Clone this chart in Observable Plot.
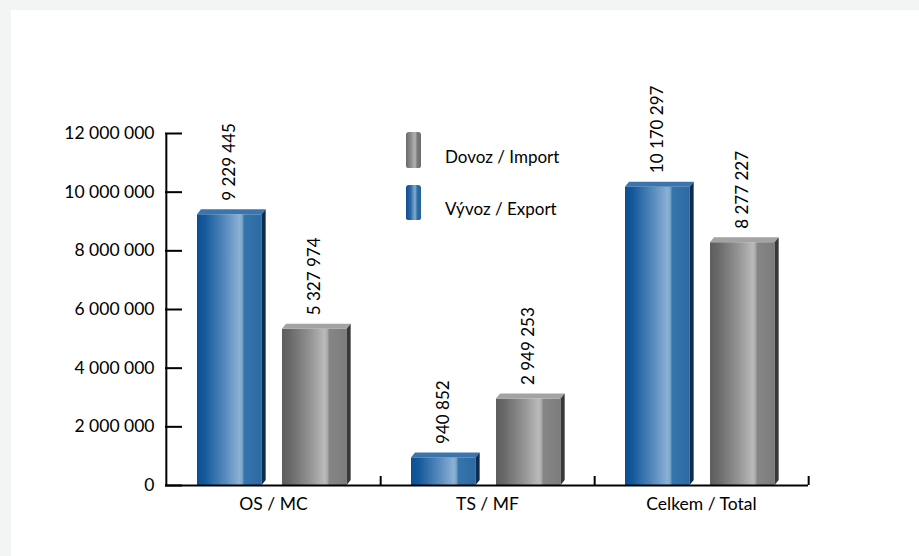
<!DOCTYPE html>
<html>
<head>
<meta charset="utf-8">
<script src="https://cdn.jsdelivr.net/npm/d3@7"></script>
<script src="https://cdn.jsdelivr.net/npm/@observablehq/plot@0.6"></script>
<style>
  html, body { margin: 0; padding: 0; }
  body { width: 919px; height: 556px; background: #f3f5f4; position: relative; overflow: hidden; font-family: Lato, "Open Sans", sans-serif; }
  #panel { position: absolute; left: 11px; top: 10px; width: 908px; height: 546px; background: #ffffff; }
  #panel svg { position: absolute; left: 0; top: 0; }
  .sw { position: absolute; width: 15px; border-radius: 3px 3px 2px 2px; }
  .lt { position: absolute; font-size: 17px; color: #000; line-height: 20px; white-space: nowrap; }
</style>
</head>
<body>
<div id="panel"></div>
<div class="sw" style="left:406px; top:132px; height:36px; background: linear-gradient(to right, #6a6a6a, #8a8a8a 30%, #b4b4b4 60%, #7a7a7a 75%, #6c6c6c);"></div>
<div class="lt" style="left:445px; top:147px;">Dovoz / Import</div>
<div class="sw" style="left:406px; top:185px; height:35px; background: linear-gradient(to right, #0b4f93, #2a66a3 30%, #86acd0 60%, #2f6da6 75%, #24609b);"></div>
<div class="lt" style="left:445px; top:199px;">Vývoz / Export</div>
<script>
// ---- data ----
const categories = ["OS / MC", "TS / MF", "Celkem / Total"];
const exportValues = [9229445, 940852, 10170297];   // Vývoz / Export
const importValues = [5327974, 2949253, 8277227];   // Dovoz / Import
const yTicks = [0, 2000000, 4000000, 6000000, 8000000, 10000000, 12000000];

const exportData = categories.map((c, i) => ({cat: c, value: exportValues[i]}));
const importData = categories.map((c, i) => ({cat: c, value: importValues[i]}));
const fmt = v => d3.format(",")(v).replace(/,/g, " ");

const W = 908, H = 546;
const mL = 154, mR = 111, mT = 123, mB = 71;
const bw = (W - mL - mR) / categories.length; // band width

const chart = Plot.plot({
  width: W, height: H,
  marginLeft: mL, marginRight: mR, marginTop: mT, marginBottom: mB,
  style: {fontFamily: "Lato, 'Open Sans', sans-serif", fontSize: "17.5px", color: "#000", background: "transparent"},
  x: {domain: categories, padding: 0, tickSize: 0, tickPadding: 12, label: null},
  y: {domain: [0, 12000000], ticks: yTicks, tickFormat: fmt, tickSize: 0, tickPadding: 11, label: null},
  marks: [
    Plot.barY(exportData, {x: "cat", y: "value", insetLeft: 31, insetRight: bw - 96, fill: "url(#gBlue)"}),
    Plot.barY(importData, {x: "cat", y: "value", insetLeft: 116, insetRight: bw - 181, fill: "url(#gGray)"}),
    Plot.ruleY([0], {strokeWidth: 2, stroke: "#000"}),
    Plot.ruleY(yTicks, {y: d => d, insetRight: (W - mL - mR) - 17, strokeWidth: 2, stroke: "#000"}),
    Plot.ruleX([categories[0]], {x: d => d, dx: -bw / 2, y1: 0, y2: 12000000, strokeWidth: 2, stroke: "#000"}),
    Plot.ruleX(categories, {x: d => d, dx: bw / 2, y1: 0, y2: 0, insetTop: -9, strokeWidth: 2, stroke: "#000"}),
    Plot.text(exportData, {x: "cat", y: "value", text: d => fmt(d.value), rotate: -90, textAnchor: "start", lineAnchor: "middle", dx: 31 + 32.5 - bw / 2, dy: -14, fontSize: 17, fill: "#000"}),
    Plot.text(importData, {x: "cat", y: "value", text: d => fmt(d.value), rotate: -90, textAnchor: "start", lineAnchor: "middle", dx: 116 + 32.5 - bw / 2, dy: -14, fontSize: 17, fill: "#000"})
  ]
});

// gradients
const svg = d3.select(chart);
const defs = svg.insert("defs", ":first-child");
function grad(id, stops) {
  const g = defs.append("linearGradient").attr("id", id).attr("x1", 0).attr("x2", 1).attr("y1", 0).attr("y2", 0);
  stops.forEach(([o, c]) => g.append("stop").attr("offset", o).attr("stop-color", c));
}
grad("gBlue", [[0, "#0a4f93"], [0.12, "#15599b"], [0.45, "#5a8dbf"], [0.66, "#8cb1d3"], [0.7, "#7aa4ca"], [0.73, "#3674ac"], [1, "#2c6aa3"]]);
grad("gGray", [[0, "#5e5e5e"], [0.12, "#686868"], [0.45, "#969696"], [0.66, "#bababa"], [0.7, "#acacac"], [0.73, "#868686"], [1, "#7c7c7c"]]);

// 3D faces derived from the bars Plot drew
const d = 4, e = 5;
svg.selectAll("g[aria-label='bar']").each(function() {
  const g = d3.select(this);
  const isBlue = (g.attr("fill") || "").includes("gBlue");
  const topC = isBlue ? "#3c75ae" : "#a3a3a3";
  const sideC = isBlue ? "#0e2c4d" : "#383838";
  g.selectAll("rect").each(function() {
    const r = d3.select(this);
    const x = +r.attr("x"), y = +r.attr("y"), w = +r.attr("width"), h = +r.attr("height");
    g.append("polygon").attr("points", [[x, y], [x + d, y - e], [x + w + d, y - e], [x + w, y]].join(" ")).attr("fill", topC);
    g.append("polygon").attr("points", [[x + w, y], [x + w + d, y - e], [x + w + d, y + h - e], [x + w, y + h]].join(" ")).attr("fill", sideC);
  });
});

document.getElementById("panel").appendChild(chart);
</script>
</body>
</html>
